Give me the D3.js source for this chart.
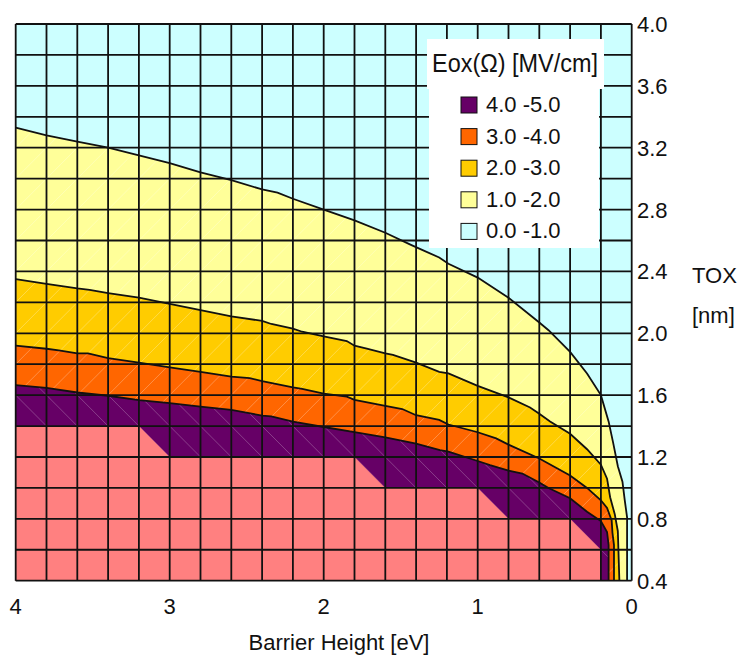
<!DOCTYPE html>
<html><head><meta charset="utf-8">
<script src="https://cdn.jsdelivr.net/npm/d3@7"></script>
<style>
html,body{margin:0;padding:0;background:#fff;}
svg{display:block;}
text{font-family:"Liberation Sans",Arial,sans-serif;fill:#111;}
</style></head><body>
<svg id="chart" width="740" height="663"></svg>
<script>
// Oxide field Eox [MV/cm] vs barrier height and oxide thickness.
// Each boundary is an iso-field line [barrier eV, TOX nm], running from 4 eV toward 0 eV.
const barrierTicks = [4, 3, 2, 1, 0];
const toxTicks = [0.4, 0.8, 1.2, 1.6, 2.0, 2.4, 2.8, 3.2, 3.6, 4.0];
const gridStep = 0.2;

const eox1 = [[4.0,3.33],[3.8,3.28],[3.6,3.24],[3.4,3.20],[3.2,3.15],[3.0,3.10],[2.8,3.04],[2.6,2.99],[2.4,2.93],[2.3,2.91],[2.2,2.87],[2.0,2.80],[1.8,2.73],[1.6,2.65],[1.43,2.57],[1.25,2.49],[1.19,2.45],[1.0,2.36],[0.8,2.23],[0.6,2.07],[0.54,2.02],[0.4,1.88],[0.29,1.74],[0.2,1.60],[0.15,1.43],[0.12,1.29],[0.09,1.14],[0.06,1.04],[0.045,0.92],[0.03,0.81],[0.03,0.4]];
const eox2 = [[4.0,2.35],[3.8,2.32],[3.6,2.29],[3.52,2.28],[3.4,2.26],[3.2,2.23],[3.0,2.19],[2.8,2.15],[2.6,2.11],[2.4,2.08],[2.34,2.06],[2.2,2.03],[2.14,2.01],[2.0,1.98],[1.85,1.95],[1.8,1.92],[1.72,1.90],[1.6,1.87],[1.55,1.86],[1.4,1.81],[1.25,1.75],[1.19,1.74],[1.0,1.66],[0.8,1.585],[0.66,1.52],[0.6,1.48],[0.53,1.43],[0.4,1.35],[0.29,1.25],[0.2,1.15],[0.16,1.06],[0.14,0.94],[0.11,0.83],[0.09,0.72],[0.08,0.4]];
const eox3 = [[4.0,1.92],[3.8,1.90],[3.72,1.89],[3.6,1.87],[3.53,1.87],[3.4,1.84],[3.2,1.81],[3.0,1.78],[2.8,1.75],[2.6,1.72],[2.48,1.71],[2.4,1.69],[2.2,1.65],[2.14,1.64],[2.0,1.61],[1.85,1.59],[1.8,1.57],[1.6,1.53],[1.49,1.51],[1.4,1.47],[1.25,1.44],[1.19,1.41],[1.0,1.36],[0.88,1.32],[0.8,1.28],[0.6,1.19],[0.4,1.08],[0.29,1.0],[0.2,0.92],[0.16,0.87],[0.13,0.79],[0.125,0.71],[0.115,0.63],[0.115,0.4]];
const eox4 = [[4.0,1.665],[3.8,1.647],[3.6,1.617],[3.4,1.596],[3.2,1.568],[3.0,1.549],[2.8,1.525],[2.6,1.504],[2.4,1.468],[2.34,1.462],[2.2,1.428],[2.0,1.394],[1.8,1.361],[1.6,1.327],[1.4,1.287],[1.245,1.245],[1.19,1.235],[1.0,1.174],[0.92,1.148],[0.8,1.112],[0.71,1.093],[0.6,1.035],[0.54,0.999],[0.4,0.933],[0.29,0.846],[0.2,0.786],[0.16,0.715],[0.15,0.631],[0.15,0.4]];
const eox5 = [[4.0,1.4],[3.2,1.4],[3.0,1.2],[1.8,1.2],[1.6,1.0],[1.0,1.0],[0.8,0.8],[0.4,0.8],[0.2,0.6],[0.2,0.4]];

const boundaries = [eox1, eox2, eox3, eox4, eox5];
const baseColor = "#CCFFFF";
const bandColors = ["#FFFF99", "#FFCC00", "#FF6600", "#660066", "#FF8080"];
const legendLabels = ["4.0 -5.0", "3.0 -4.0", "2.0 -3.0", "1.0 -2.0", "0.0 -1.0"];
const legendColors = ["#660066", "#FF6600", "#FFCC00", "#FFFF99", "#CCFFFF"];

const svg = d3.select("#chart");
const x = d3.scaleLinear().domain([4, 0]).range([15.7, 631.7]);
const y = d3.scaleLinear().domain([0.4, 4.0]).range([580.7, 24]);
const line = d3.line().x(d => x(d[0])).y(d => y(d[1]));
const [x0, x1] = x.range();
const [y0, y1] = y.range();

// background band (lowest field)
svg.append("rect").attr("x", x0).attr("y", y1).attr("width", x1 - x0).attr("height", y0 - y1).attr("fill", baseColor);

// each band fills everything below its lower iso-line
boundaries.forEach((b, i) => {
  const pts = b.concat([[4, 0.4]]);
  svg.append("path").attr("d", line(pts) + "Z").attr("fill", bandColors[i]);
});

// faint triangulation seams inside the mid bands
const defs = svg.append("defs");
function between(a, b) {
  return line(a.concat(b.slice().reverse())) + "Z";
}
defs.append("clipPath").attr("id", "midBands").append("path").attr("d", between(eox1, eox4));
defs.append("clipPath").attr("id", "topBand").append("path").attr("d", between(eox4, eox5));
const cols = d3.range(0, 4 - 1e-9, gridStep);
const rows = d3.range(0.4, 4 - 1e-9, gridStep);
const cells = [];
cols.forEach(p => rows.forEach(t => cells.push([p, t])));
svg.append("g").attr("clip-path", "url(#midBands)")
  .selectAll("line").data(cells).join("line")
  .attr("x1", d => x(d[0] + gridStep)).attr("y1", d => y(d[1]))
  .attr("x2", d => x(d[0])).attr("y2", d => y(d[1] + gridStep))
  .attr("stroke", "#fff").attr("stroke-opacity", 0.35).attr("stroke-width", 0.8);
svg.append("g").attr("clip-path", "url(#topBand)")
  .selectAll("line").data(cells).join("line")
  .attr("x1", d => x(d[0] + gridStep)).attr("y1", d => y(d[1] + gridStep))
  .attr("x2", d => x(d[0])).attr("y2", d => y(d[1]))
  .attr("stroke", "#fff").attr("stroke-opacity", 0.3).attr("stroke-width", 0.8);

// grid
const gx = d3.range(0, 4 + 1e-9, gridStep);
const gy = d3.range(0.4, 4 + 1e-9, gridStep);
const grid = svg.append("g").attr("stroke", "#111").attr("stroke-width", 1.8);
grid.selectAll(".v").data(gx).join("line").attr("class", "v")
  .attr("x1", d => x(d)).attr("x2", d => x(d)).attr("y1", y0).attr("y2", y1);
grid.selectAll(".h").data(gy).join("line").attr("class", "h")
  .attr("y1", d => y(d)).attr("y2", d => y(d)).attr("x1", x0).attr("x2", x1);

// iso-lines between the legend bands
svg.append("g").selectAll("path").data(boundaries.slice(0, 4)).join("path")
  .attr("d", d => line(d)).attr("fill", "none").attr("stroke", "#111").attr("stroke-width", 1.8);

// axis labels
svg.append("g").selectAll("text").data(barrierTicks).join("text")
  .attr("x", d => x(d)).attr("y", 614).attr("text-anchor", "middle")
  .attr("font-size", 22).text(d => d);
svg.append("g").selectAll("text").data(toxTicks).join("text")
  .attr("x", 637).attr("y", d => y(d) + 8)
  .attr("font-size", 22).text(d => d3.format(".1f")(d));
svg.append("text").attr("x", 339).attr("y", 650).attr("text-anchor", "middle")
  .attr("font-size", 22).text("Barrier Height [eV]");
svg.append("text").attr("x", 692).attr("y", 283).attr("font-size", 22).text("TOX");
svg.append("text").attr("x", 692).attr("y", 323).attr("font-size", 22).text("[nm]");

// legend
const lg = svg.append("g");
lg.append("rect").attr("x", 427).attr("y", 39).attr("width", 177).attr("height", 50).attr("fill", "#fff");
lg.append("rect").attr("x", 429).attr("y", 88).attr("width", 170).attr("height", 160).attr("fill", "#fff");
lg.append("text").attr("x", 432).attr("y", 72).attr("font-size", 25)
  .attr("textLength", 166).attr("lengthAdjust", "spacingAndGlyphs").text("Eox(Ω) [MV/cm]");
const items = lg.selectAll(".item").data(legendLabels).join("g").attr("class", "item")
  .attr("transform", (d, i) => `translate(461,${97 + i * 31.6})`);
items.append("rect").attr("width", 16).attr("height", 16)
  .attr("fill", (d, i) => legendColors[i]).attr("stroke", "#111").attr("stroke-width", 1);
items.append("text").attr("x", 25).attr("y", 15).attr("font-size", 22).text(d => d);
</script></body></html>
